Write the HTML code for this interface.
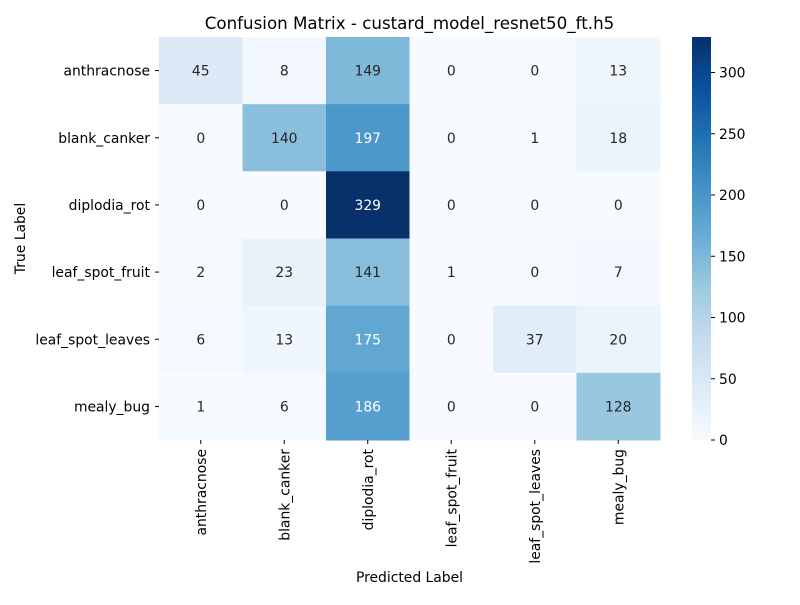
<!DOCTYPE html>
<html><head><meta charset="utf-8"><style>
body{margin:0;background:#fff;}
svg text{font-family:"DejaVu Sans","Liberation Sans",sans-serif;}
</style></head><body>
<svg id="chart" width="800" height="600" viewBox="0 0 800 600" xmlns="http://www.w3.org/2000/svg">
<rect width="800" height="600" fill="#fff"/>
<text x="409.5" y="29" font-size="16.7" text-anchor="middle" fill="#000">Confusion Matrix - custard_model_resnet50_ft.h5</text>
<g id="cells"></g>
<g id="axes"></g>
<text x="409.5" y="582" font-size="13.9" text-anchor="middle">Predicted Label</text>
<text transform="translate(25,238.5) rotate(-90)" font-size="13.9" text-anchor="middle">True Label</text>
<defs><linearGradient id="cbgrad" x1="0" y1="1" x2="0" y2="0"></linearGradient></defs>
<g id="cbar"></g>
</svg>
<script>
const labels = ["anthracnose","blank_canker","diplodia_rot","leaf_spot_fruit","leaf_spot_leaves","mealy_bug"];
const row0 = [45,8,149,0,0,13];
const row1 = [0,140,197,0,1,18];
const row2 = [0,0,329,0,0,0];
const row3 = [2,23,141,1,0,7];
const row4 = [6,13,175,0,37,20];
const row5 = [1,6,186,0,0,128];
const cbTicks = [0,50,100,150,200,250,300];
const matrix = [row0,row1,row2,row3,row4,row5];

const NS="http://www.w3.org/2000/svg";
const X0=159,X1=660,Y0=37,Y1=440;
const FS=13.9;
const vmax=Math.max(...matrix.flat()), vmin=0;
const stops=["#f7fbff","#deebf7","#c6dbef","#9ecae1","#6baed6","#4292c6","#2171b5","#08519c","#08306b"];
function hex(h){return [1,3,5].map(i=>parseInt(h.substr(i,2),16));}
function color(v){
  let t=(v-vmin)/(vmax-vmin); t=Math.max(0,Math.min(1,t));
  const p=t*(stops.length-1), i=Math.min(Math.floor(p),stops.length-2), f=p-i;
  const a=hex(stops[i]), b=hex(stops[i+1]);
  return "rgb("+a.map((c,k)=>Math.round(c+(b[k]-c)*f)).join(",")+")";
}
function mk(tag,attrs,parent){const e=document.createElementNS(NS,tag);for(const k in attrs)e.setAttribute(k,attrs[k]);parent.appendChild(e);return e;}
const n=labels.length, cw=(X1-X0)/n, ch=(Y1-Y0)/n;
const xs=i=>X0+i*cw, ys=j=>Y0+j*ch;
const cells=document.getElementById("cells"), axes=document.getElementById("axes");
matrix.forEach((row,j)=>row.forEach((v,i)=>{
  const r=mk("rect",{x:xs(i),y:ys(j),width:cw+0.5,height:ch+0.5,fill:color(v)},cells);
  
  
  const t=mk("text",{x:xs(i)+cw/2,y:ys(j)+ch/2+5,"font-size":FS,"text-anchor":"middle",fill:(v/vmax>0.5?"#fff":"#262626")},cells);
  t.textContent=v;
  
  
}));
labels.forEach((l,j)=>{
  const y=ys(j)+ch/2;
  const tk=mk("line",{x1:X0-4,x2:X0,y1:y,y2:y,stroke:"#000","stroke-width":1},axes);
  
  
  const t=mk("text",{x:X0-9,y:y+5,"font-size":FS,"text-anchor":"end"},axes);
  t.textContent=l;
  
  
});
labels.forEach((l,i)=>{
  const x=xs(i)+cw/2;
  const tk=mk("line",{x1:x,x2:x,y1:Y1,y2:Y1+4,stroke:"#000","stroke-width":1},axes);
  
  
  const t=mk("text",{transform:"translate("+(x+5)+","+(Y1+9)+") rotate(-90)","font-size":FS,"text-anchor":"end"},axes);
  t.textContent=l;
  
  
});
const g=document.getElementById("cbgrad");
stops.forEach((s,k)=>mk("stop",{offset:(k/(stops.length-1)),"stop-color":s},g));
const cb=document.getElementById("cbar");
const CX0=692,CX1=711;
const cy=v=>Y1-(v-vmin)/(vmax-vmin)*(Y1-Y0);
const cr=mk("rect",{x:CX0,y:Y0,width:CX1-CX0,height:Y1-Y0,fill:"url(#cbgrad)"},cb);


cbTicks.forEach(v=>{
  const y=cy(v);
  const tk=mk("line",{x1:CX1,x2:CX1+4,y1:y,y2:y,stroke:"#000","stroke-width":1},cb);
  
  
  const t=mk("text",{x:CX1+8,y:y+5,"font-size":FS},cb);
  t.textContent=v;
  
  
});
</script>
</body></html>
